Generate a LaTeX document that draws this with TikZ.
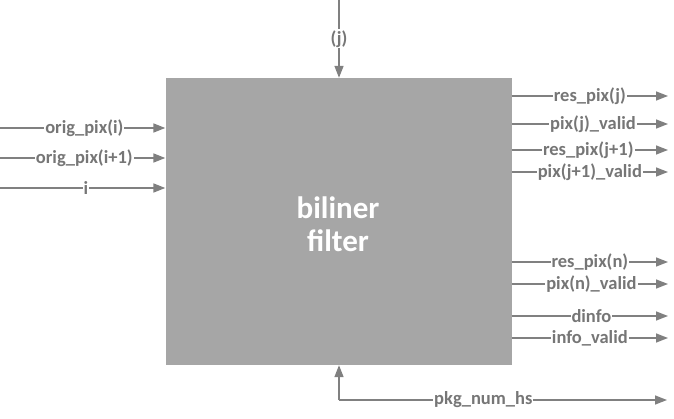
\documentclass[tikz,border=0pt]{standalone}
\usepackage{fontspec}
\setmainfont{Carlito}
\usetikzlibrary{arrows.meta}
\definecolor{boxgray}{HTML}{A6A6A6}
\definecolor{linegray}{HTML}{808080}
\definecolor{txtgray}{HTML}{767676}
\begin{document}
\begin{tikzpicture}[x=1pt,y=-1pt,
  sig/.style={draw=linegray,line width=1.6pt,-{Triangle[length=12pt,width=9pt]}},
  lbl/.style={fill=white,inner sep=1pt,text=txtgray,font=\fontsize{18.5}{18.5}\selectfont\bfseries},
  blk/.style={fill=boxgray,draw=none,minimum width=346pt,minimum height=287pt,inner sep=0pt}]
\useasboundingbox (0,0) rectangle (674,419);
\node[blk] (box) at (338.5,221.5) {};
\node[text=white,font=\fontsize{31}{33}\selectfont\bfseries,align=center] (title) at (338,224) {biliner\\filter};
% top
\coordinate (tj) at (339,0);
\draw[sig] (tj) -- (tj |- box.north) node[lbl,pos=0.5] {(j)};
% left
\coordinate (l1) at (0,128);
\coordinate (l2) at (0,158);
\coordinate (l3) at (0,188);
\draw[sig] (l1) -- (l1 -| box.west) node[lbl,pos=0.51] {orig\_pix(i)};
\draw[sig] (l2) -- (l2 -| box.west) node[lbl,pos=0.51] {orig\_pix(i+1)};
\draw[sig] (l3) -- (l3 -| box.west) node[lbl,pos=0.52] {i};
% right
\foreach \y/\t/\p [count=\k] in {96/res\_pix(j)/0.5, 124/pix(j)\_valid/0.52, 150/res\_pix(j+1)/0.49, 172/pix(j+1)\_valid/0.5, 262/res\_pix(n)/0.5, 284/pix(n)\_valid/0.51, 316/dinfo/0.51, 338/info\_valid/0.5}{
  \coordinate (r\k) at (668,\y);
  \draw[sig] (r\k -| box.east) -- (r\k) node[lbl,pos=\p] {\t};
}
% bottom
\coordinate (bc) at (339,400);
\coordinate (be) at (667,400);
\draw[sig] (bc) -- (bc |- box.south);
\draw[sig] (bc) -- (be) node[lbl,pos=0.44] {pkg\_num\_hs};
\end{tikzpicture}
\end{document}
